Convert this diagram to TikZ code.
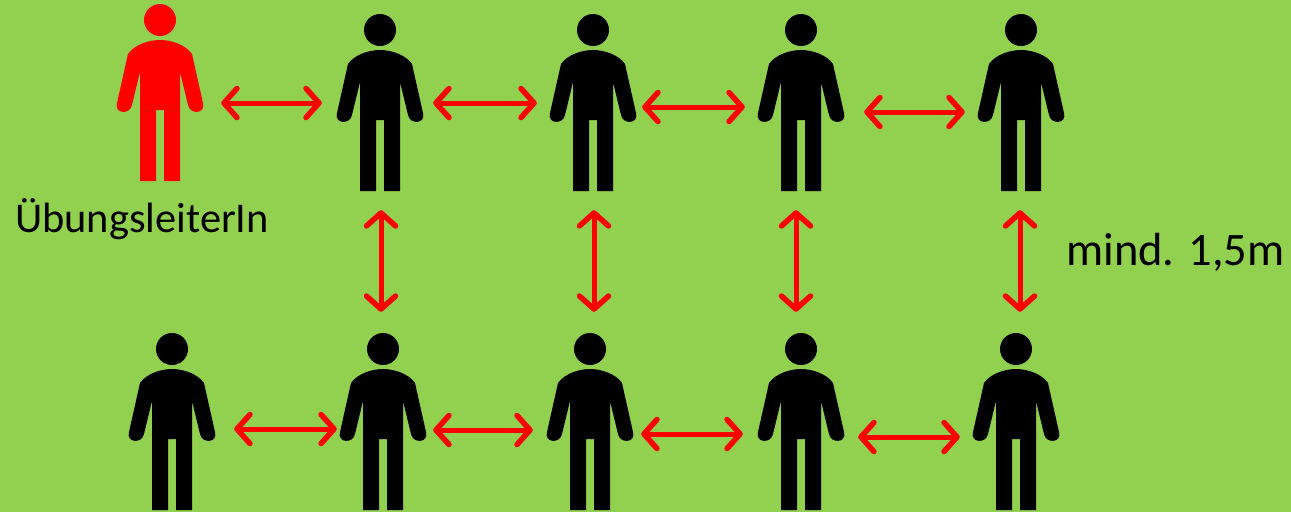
\documentclass[tikz,border=0pt]{standalone}
\usepackage{fontspec}
\setmainfont{Carlito}
\usepackage{tikz}
\usetikzlibrary{arrows.meta,positioning}
\definecolor{lawn}{HTML}{92D050}
\tikzset{
  dist/.style={draw=red, line width=5pt, {Straight Barb[length=13pt,width=29pt,line width=5.5pt,round]}-{Straight Barb[length=13pt,width=29pt,line width=5.5pt,round]}},
  lbl/.style={inner sep=0pt, anchor=base west},
  persbox/.style={minimum width=86pt, minimum height=177pt, inner sep=0pt},
  pics/person/.style={code={
    \node[persbox] (-box) at (0,72.5) {};
    \fill[pic actions] (0,0) circle (16);
    \fill[pic actions] (-32,34) .. controls (-25,24) and (-10,20) .. (0,20)
      .. controls (10,20) and (25,24) .. (32,34) -- (43,83)
      .. controls (46,94) and (30,95) .. (28,85) -- (20,52) -- (20,161) -- (4,161)
      -- (4,90) -- (-4,90) -- (-4,161) -- (-20,161) -- (-20,52) -- (-28,85)
      .. controls (-30,95) and (-46,94) .. (-43,83) -- cycle;
  }}
}
\begin{document}
\begin{tikzpicture}[x=1pt,y=-1pt]
  \fill[lawn] (0,0) rectangle (1291,512);
  \useasboundingbox (0,0) rectangle (1291,512);

  % persons
  \pic[fill=red] (lead) at (160,20) {person};
  \foreach \name/\px/\py in {a1/380/30,a2/593/30,a3/801/30,a4/1021/30,
                             b0/172/349,b1/383/349,b2/590/349,b3/801/349,b4/1016/349}
    \pic[fill=black] (\name) at (\px,\py) {person};

  % horizontal distances
  \foreach \from/\to/\py/\sa/\sb in {lead/a1/103/18/-15,a1/a2/103/10/-13,a2/a3/107/6/-13,a3/a4/112/20/-13,
                                     b0/b1/429/19/-3,b1/b2/430/7/-14,b2/b3/434/8/-15,b3/b4/437/14/-13}
    \draw[dist] ([xshift=\sa]\from-box.east |- 0,\py) -- ([xshift=\sb]\to-box.west |- 0,\py);

  % vertical distances
  \foreach \from/\to/\px in {a1/b1/381,a2/b2/594,a3/b3/796,a4/b4/1020}
    \draw[dist, shorten <=19pt, shorten >=21pt] (\from-box.south -| \px,0) -- (\to-box.north -| \px,0);

  \node[lbl, font=\fontsize{42.4}{48}\selectfont] (leadtext) at (15,232) {ÜbungsleiterIn};
  \node[lbl, font=\fontsize{46.5}{52}\selectfont] (mindtext) at (1066,265) {mind. 1,5m};
\end{tikzpicture}
\end{document}
